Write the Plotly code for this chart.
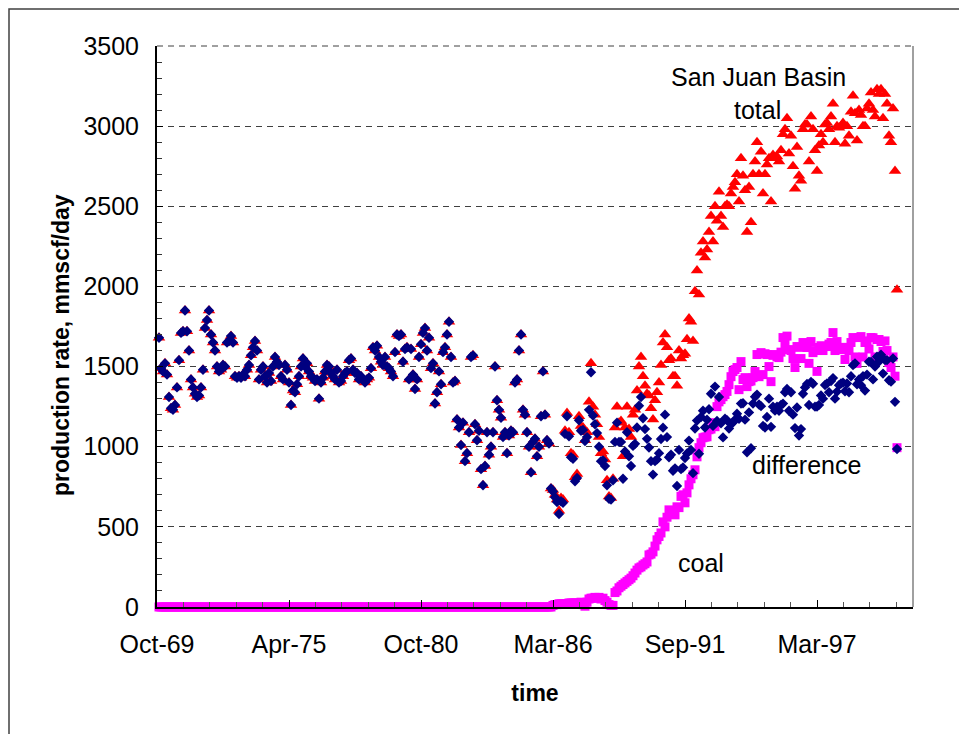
import numpy as np
import pandas as pd
import plotly.graph_objects as go

# ---------------- data (monthly, starting Oct-1969) ----------------
start_month = "1969-10-01"

# San Juan Basin total gas production, mmscf/day
total = [
    1680, 1490, 1470, 1520, 1450, 1310, 1240, 1230, 1260, 1370, 1540, 1710,
    1720, 1850, 1720, 1600, 1420, 1370, 1330, 1310, 1320, 1370, 1480, 1740,
    1790, 1850, 1700, 1650, 1600, 1500, 1470, 1480, 1510, 1500, 1650, 1660,
    1690, 1650, 1440, 1430, 1440, 1430, 1450, 1440, 1480, 1510, 1570, 1620,
    1660, 1600, 1420, 1480, 1500, 1440, 1400, 1460, 1410, 1500, 1560, 1530,
    1510, 1440, 1420, 1510, 1480, 1400, 1260, 1350, 1340, 1390, 1440, 1500,
    1550, 1500, 1520, 1470, 1440, 1430, 1410, 1420, 1300, 1400, 1430, 1470,
    1510, 1500, 1460, 1440, 1420, 1480, 1400, 1410, 1440, 1460, 1470, 1540,
    1550, 1480, 1460, 1460, 1420, 1440, 1420, 1400, 1420, 1430, 1490, 1620,
    1600, 1630, 1560, 1530, 1510, 1560, 1500, 1490, 1470, 1440, 1590, 1700,
    1690, 1700, 1530, 1610, 1620, 1420, 1610, 1450, 1360, 1420, 1560, 1640,
    1710, 1740, 1600, 1680, 1490, 1520, 1270, 1340, 1470, 1390, 1590, 1620,
    1700, 1780, 1560, 1400, 1410, 1170, 1120, 1010, 1150, 910, 960, 1090,
    1560, 1570, 1140, 1040, 1100, 860, 760, 880, 1090, 950, 1000, 1090,
    1500, 1290, 1230, 1180, 1060, 1090, 960, 1070, 1100, 1090, 1400, 1420,
    1600, 1700, 1230, 1200, 1090, 1000, 840, 1030, 1050, 940, 1000, 1190,
    1470, 1200, 1040, 1020, 740, 730, 700, 670, 600, 680, 670, 1100,
    1210, 1090, 960, 950, 810, 830, 1190, 1130, 1120, 1040, 1090, 1280,
    1520, 1250, 1200, 1140, 1060, 960, 970, 920, 790, 690, 680, 800,
    1120, 1250, 1150, 1160, 940, 1120, 1250, 1110, 1060, 1200, 1230, 1350,
    1500, 1560, 1440, 1380, 1330, 1320, 1240, 1170, 1290, 1340, 1400, 1510,
    1650, 1700, 1620, 1540, 1550, 1440, 1440, 1380, 1600, 1550, 1570, 1580,
    1670, 1800, 1780, 1660, 1970, 2100, 1950, 2210, 2280, 2180, 2230, 2340,
    2440, 2280, 2500, 2410, 2590, 2440, 2370, 2500, 2510, 2500, 2580, 2620,
    2650, 2700, 2530, 2800, 2690, 2600, 2340, 2620, 2400, 2700, 2780, 2900,
    2700, 2840, 2580, 2700, 2760, 2800, 2530, 2820, 2800, 2810, 2780, 2850,
    2950, 2980, 3050, 2830, 2940, 2750, 2610, 2870, 2690, 2660, 2980, 3010,
    3010, 2780, 3060, 2980, 2850, 2720, 2880, 2950, 2900, 3010, 3020, 2980,
    3060, 3140, 2900, 3000, 2990, 3000, 3020, 2890, 3000, 2940, 3090, 3190,
    3080, 2910, 3100, 3070, 3000, 3000, 3110, 3140, 3210, 3100, 3060, 3230,
    3200, 3230, 3050, 3200, 3140, 2940, 2900, 3110, 2720, 1980,
]

# coalbed methane production, mmscf/day
coal = [
    0, 0, 0, 0, 0, 0, 0, 0, 0, 0, 0, 0,
    0, 0, 0, 0, 0, 0, 0, 0, 0, 0, 0, 0,
    0, 0, 0, 0, 0, 0, 0, 0, 0, 0, 0, 0,
    0, 0, 0, 0, 0, 0, 0, 0, 0, 0, 0, 0,
    0, 0, 0, 0, 0, 0, 0, 0, 0, 0, 0, 0,
    0, 0, 0, 0, 0, 0, 0, 0, 0, 0, 0, 0,
    0, 0, 0, 0, 0, 0, 0, 0, 0, 0, 0, 0,
    0, 0, 0, 0, 0, 0, 0, 0, 0, 0, 0, 0,
    0, 0, 0, 0, 0, 0, 0, 0, 0, 0, 0, 0,
    0, 0, 0, 0, 0, 0, 0, 0, 0, 0, 0, 0,
    0, 0, 0, 0, 0, 0, 0, 0, 0, 0, 0, 0,
    0, 0, 0, 0, 0, 0, 0, 0, 0, 0, 0, 0,
    0, 0, 0, 0, 0, 0, 0, 0, 0, 0, 0, 0,
    0, 0, 0, 0, 0, 0, 0, 0, 0, 0, 0, 0,
    0, 0, 0, 0, 0, 0, 0, 0, 0, 0, 0, 0,
    0, 0, 0, 0, 0, 0, 0, 0, 0, 0, 0, 0,
    0, 0, 0, 0, 0, 10, 15, 15, 20, 20, 20, 20,
    20, 25, 25, 25, 25, 25, 25, 30, 15, 5, 30, 50,
    55, 55, 60, 55, 60, 50, 55, 40, 30, 15, 10, 10,
    90, 100, 120, 130, 140, 150, 160, 170, 180, 195, 212, 230,
    244, 250, 262, 270, 281, 325, 330, 344, 380, 419, 440, 462,
    531, 500, 560, 606, 600, 590, 575, 625, 620, 690, 700, 650,
    712, 762, 800, 825, 856, 937, 994, 1025, 1056, 1060, 1062, 1106,
    1110, 1150, 1125, 1250, 1280, 1294, 1312, 1325, 1345, 1387, 1437, 1469,
    1481, 1494, 1356, 1531, 1419, 1431, 1375, 1406, 1410, 1431, 1469, 1575,
    1437, 1587, 1450, 1580, 1575, 1500, 1406, 1570, 1575, 1560, 1556, 1590,
    1681, 1640, 1690, 1606, 1600, 1550, 1494, 1625, 1620, 1550, 1650, 1640,
    1619, 1520, 1656, 1587, 1600, 1470, 1619, 1630, 1600, 1625, 1625, 1640,
    1650, 1712, 1600, 1656, 1606, 1606, 1620, 1544, 1606, 1600, 1650, 1681,
    1560, 1520, 1681, 1687, 1560, 1650, 1660, 1610, 1681, 1680, 1560, 1669,
    1669, 1656, 1594, 1660, 1600, 1525, 1494, 1560, 1440, 994,
]

# axis labels
tick_labels = ["Oct-69", "Apr-75", "Oct-80", "Mar-86", "Sep-91", "Mar-97"]
y_ticks = [0, 500, 1000, 1500, 2000, 2500, 3000, 3500]

# ---------------- derived ----------------
total_arr = np.array(total, dtype=float)
coal_arr = np.array(coal, dtype=float)
difference = total_arr - coal_arr          # conventional gas = total - coal

dates = pd.date_range(start_month, periods=len(total), freq="MS")
date_txt = [d.strftime("%b-%y") for d in dates]
xpos = np.arange(len(total)) + 1           # months from the axis origin

FONT = "Liberation Sans, Arial, sans-serif"

# figure geometry (page body has an 8px margin)
L, T, PW, PH = 149, 38, 756, 561
W, H = 967, 734

fig = go.Figure()
fig.add_trace(go.Scatter(
    x=xpos, y=total_arr, mode="markers", name="total",
    text=date_txt, hovertemplate="%{text}: %{y}<extra>total</extra>",
    marker=dict(symbol="triangle-up", size=11, color="#FF0000", line=dict(width=0)),
    cliponaxis=False))
fig.add_trace(go.Scatter(
    x=xpos, y=coal_arr, mode="markers", name="coal",
    text=date_txt, hovertemplate="%{text}: %{y}<extra>coal</extra>",
    marker=dict(symbol="square", size=9, color="#FF00FF", line=dict(width=0)),
    cliponaxis=False))
fig.add_trace(go.Scatter(
    x=xpos, y=difference, mode="markers", name="difference",
    text=date_txt, hovertemplate="%{text}: %{y}<extra>difference</extra>",
    marker=dict(symbol="diamond", size=8, color="#000080", line=dict(width=0)),
    cliponaxis=False))

fig.update_layout(
    width=W, height=H, autosize=False,
    margin=dict(l=L, r=W - L - PW, t=T, b=H - T - PH),
    paper_bgcolor="white", plot_bgcolor="white",
    showlegend=False,
    font=dict(family=FONT, size=25, color="black"),
    xaxis=dict(
        range=[0, 378], tickmode="array", tickvals=[0, 66, 132, 198, 264, 330],
        ticktext=tick_labels, ticks="inside", ticklen=7, tickwidth=1,
        tickcolor="black", showline=True, linecolor="black", linewidth=2,
        showgrid=False, zeroline=False, ticklabelstandoff=14,
        tickfont=dict(family=FONT, size=25, color="black"),
        minor=dict(tickmode="linear", tick0=0, dtick=13.2, ticks="inside",
                   ticklen=5, tickcolor="#555555", tickwidth=1, showgrid=False),
        title=dict(text="<b>time</b>", standoff=28,
                   font=dict(family=FONT, size=23, color="black")),
    ),
    yaxis=dict(
        range=[0, 3500], tickmode="array", tickvals=y_ticks,
        ticks="inside", ticklen=6, tickwidth=1, tickcolor="black",
        showline=True, linecolor="black", linewidth=2,
        showgrid=True, gridcolor="#404040", gridwidth=1, griddash="6px,5px",
        zeroline=False, ticklabelstandoff=11,
        tickfont=dict(family=FONT, size=25, color="black"),
        minor=dict(tickmode="linear", tick0=0, dtick=100, ticks="inside",
                   ticklen=5, tickcolor="#333333", tickwidth=1, showgrid=False),
    ),
    annotations=[
        dict(text="<b>production rate, mmscf/day</b>", xref="paper", yref="paper",
             x=-0.127, y=0.467, textangle=-90, showarrow=False,
             xanchor="center", yanchor="middle",
             font=dict(family=FONT, size=23, color="black")),
        dict(text="San Juan Basin", x=300.5, y=3306, showarrow=False,
             xanchor="center", yanchor="middle", font=dict(family=FONT, size=25, color="black")),
        dict(text="total", x=300, y=3100, showarrow=False,
             xanchor="center", yanchor="middle", font=dict(family=FONT, size=25, color="black")),
        dict(text="difference", x=324.5, y=887, showarrow=False,
             xanchor="center", yanchor="middle", font=dict(family=FONT, size=25, color="black")),
        dict(text="coal", x=272, y=275, showarrow=False,
             xanchor="center", yanchor="middle", font=dict(family=FONT, size=25, color="black")),
    ],
    shapes=[
        # plot-area right border and top dashed line
        dict(type="line", xref="paper", yref="paper", x0=1, x1=1, y0=0, y1=1,
             line=dict(color="#808080", width=1.5)),
        dict(type="line", xref="paper", yref="paper", x0=0, x1=1, y0=1, y1=1,
             line=dict(color="#404040", width=1, dash="6px,5px")),
        # chart-area frame
        dict(type="rect", xref="paper", yref="paper",
             x0=(1 - L) / PW, x1=(957 - L) / PW,
             y0=(T + PH - 780) / PH, y1=(T + PH - 1) / PH,
             line=dict(color="#404040", width=1.5), fillcolor="rgba(0,0,0,0)",
             layer="below"),
    ],
)

fig.write_html("out.html")
